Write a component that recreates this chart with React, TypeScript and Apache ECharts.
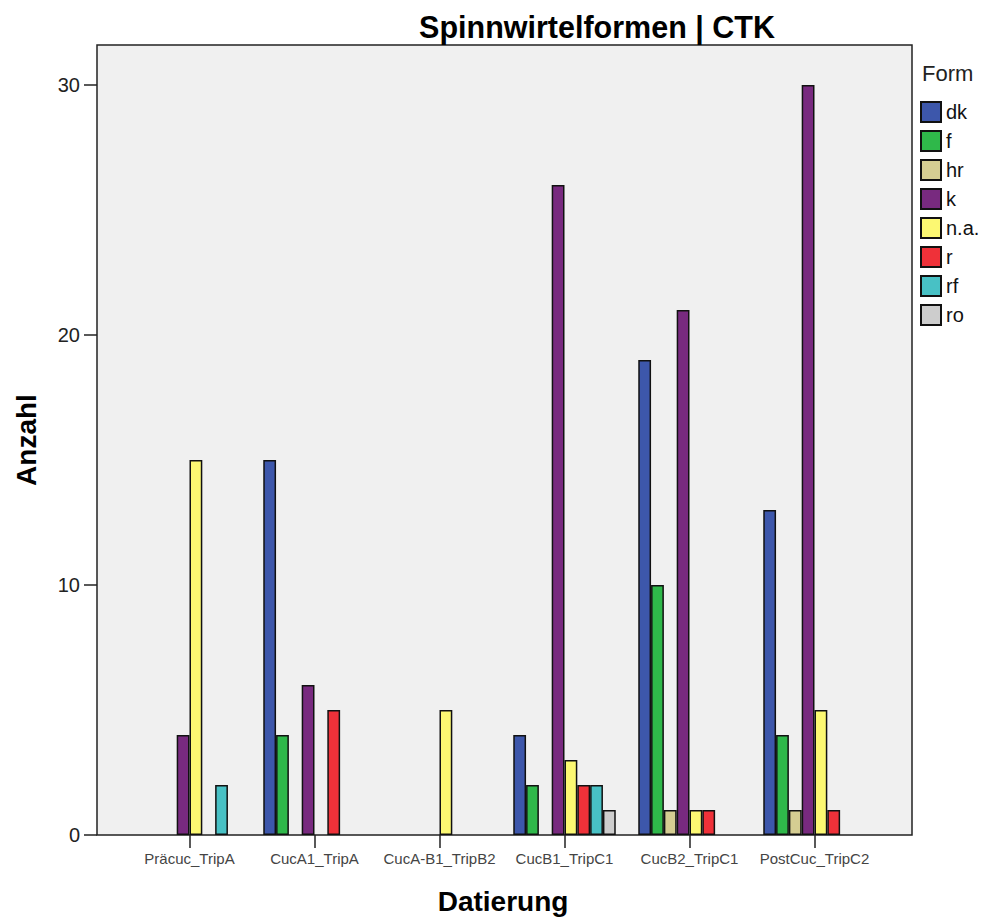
import React, { useEffect, useRef } from "react";
import * as echarts from "echarts";

const categories = ["Präcuc_TripA", "CucA1_TripA", "CucA-B1_TripB2", "CucB1_TripC1", "CucB2_TripC1", "PostCuc_TripC2"];
const seriesNames = ["dk", "f", "hr", "k", "n.a.", "r", "rf", "ro"];
const dk = [null, 15, null, 4, 19, 13];
const f = [null, 4, null, 2, 10, 4];
const hr = [null, null, null, null, 1, 1];
const k = [4, 6, null, 26, 21, 30];
const na = [15, null, 5, 3, 1, 5];
const r = [null, 5, null, 2, 1, 1];
const rf = [2, null, null, 2, null, null];
const ro = [null, null, null, 1, null, null];
const seriesData = [dk, f, hr, k, na, r, rf, ro];
const colors = ["#3d57ab", "#2fb84a", "#d5cd92", "#782a7f", "#fcf872", "#ef3139", "#48c1c5", "#cdcdcd"];

export default function App() {
  const ref = useRef<HTMLDivElement>(null);
  useEffect(() => {
    if (!ref.current) return;
    const chart = echarts.init(ref.current, null, { renderer: "svg" });
    const font = "Liberation Sans, Arial, sans-serif";
    chart.setOption({
      animation: false,
      textStyle: { fontFamily: font },
      grid: { left: 127, right: 109, top: 85, bottom: 85 },
      graphic: [
        {
          type: "rect",
          z: -10,
          silent: true,
          shape: { x: 97, y: 45, width: 815, height: 790 },
          style: { fill: "#f0f0f0", stroke: "#222", lineWidth: 1.5 },
        },
        {
          type: "text",
          x: 597,
          y: 27,
          style: { text: "Spinnwirtelformen | CTK", font: `bold 30.5px ${font}`, fill: "#000", align: "center", verticalAlign: "middle" },
        },
        {
          type: "text",
          x: 26,
          y: 440,
          rotation: Math.PI / 2,
          style: { text: "Anzahl", font: `bold 28px ${font}`, fill: "#000", align: "center", verticalAlign: "middle" },
        },
        {
          type: "text",
          x: 503,
          y: 901,
          style: { text: "Datierung", font: `bold 28px ${font}`, fill: "#000", align: "center", verticalAlign: "middle" },
        },
        {
          type: "text",
          x: 922,
          y: 73,
          style: { text: "Form", font: `22px ${font}`, fill: "#222", align: "left", verticalAlign: "middle" },
        },
      ],
      legend: {
        orient: "vertical",
        left: 920,
        top: 101,
        padding: 0,
        itemWidth: 20,
        itemHeight: 20,
        itemGap: 7,
        icon: "rect",
        textStyle: { fontSize: 20, color: "#111" },
        data: seriesNames,
      },
      xAxis: {
        type: "category",
        data: categories,
        axisLine: { show: false },
        axisTick: { show: true, alignWithLabel: true, length: 13, lineStyle: { color: "#222", width: 1.5 } },
        axisLabel: { fontSize: 15, color: "#444", margin: 16, interval: 0 },
      },
      yAxis: {
        type: "value",
        min: 0,
        max: 30,
        interval: 10,
        offset: 30,
        axisLine: { show: false },
        axisTick: { show: true, length: 13, lineStyle: { color: "#222", width: 1.5 } },
        axisLabel: { fontSize: 20, color: "#222", margin: 17 },
        splitLine: { show: false },
      },
      series: seriesNames.map((name, i) => ({
        name,
        type: "bar",
        data: seriesData[i],
        barGap: "0%",
        barCategoryGap: "18%",
        itemStyle: { color: colors[i], borderColor: "#111", borderWidth: 1.5 },
      })),
    });
    return () => chart.dispose();
  }, []);
  return <div ref={ref} style={{ position: "absolute", left: 0, top: 0, width: 986, height: 920 }} />;
}
